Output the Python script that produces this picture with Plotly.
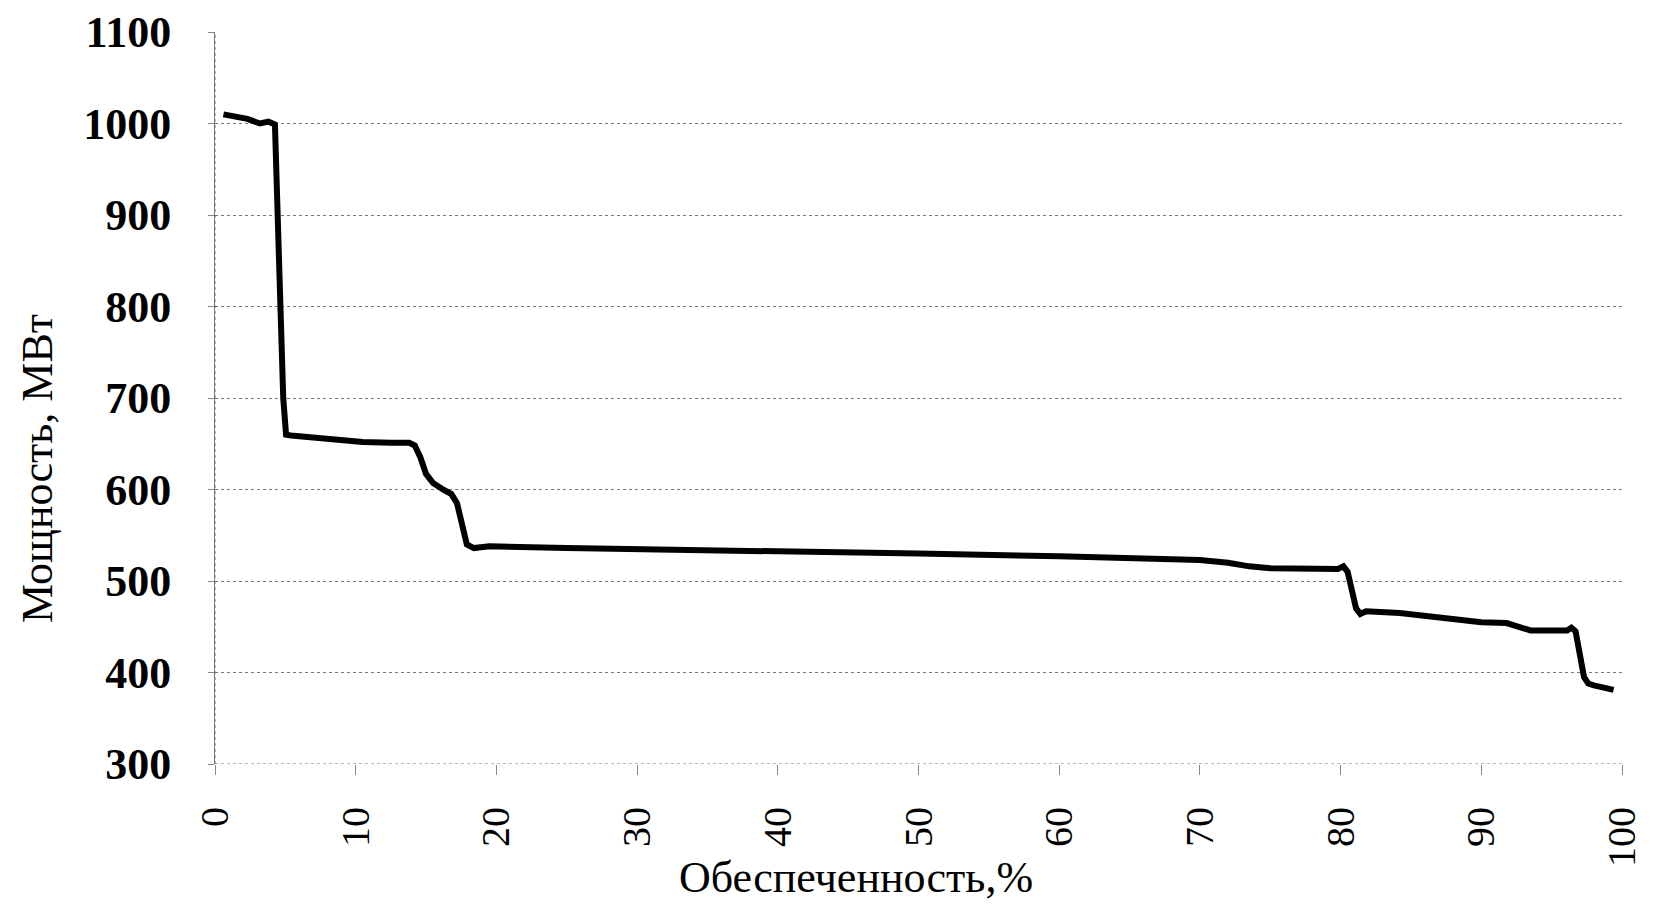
import plotly.graph_objs as go

# обеспеченность, % и мощность, МВт
obespechennost = [0.6, 1.5, 2.3, 3.2, 3.8, 4.26, 4.5, 4.65, 4.85, 5.05, 5.4, 7.0, 8.7,
                  10.5, 12.5, 13.8, 14.2, 14.6, 15.0, 15.5, 16.2, 16.8, 17.2, 17.6,
                  17.9, 18.4, 19.5, 25, 30, 40, 50, 60, 70, 72, 73.5, 75, 78, 79.8,
                  80.2, 80.5, 80.8, 81.1, 81.4, 81.8, 84.2, 86.6, 88.9, 90, 91.8,
                  92.5, 93.5, 96.1, 96.4, 96.7, 97.0, 97.3, 97.6, 98.0, 99.4]
moshchnost = [1010, 1007, 1005, 1000, 1002, 999, 900, 800, 700, 660, 659, 657, 654,
              652, 651, 651, 648, 635, 617, 607, 600, 595, 585, 562,
              540, 536, 538, 536, 535, 532, 530, 527, 523, 520, 516, 514, 513, 513,
              516, 510, 490, 470, 464, 467, 465, 461, 458, 455, 454,
              451, 446, 446, 449, 445, 420, 395, 388, 386, 381]

x_ticks = list(range(0, 101, 10))
y_ticks = list(range(300, 1101, 100))

fig = go.Figure()
fig.add_trace(go.Scatter(
    x=obespechennost,
    y=moshchnost,
    mode='lines',
    line=dict(color='black', width=6),
    showlegend=False
))

fig.update_layout(
    width=1638,
    height=895,
    margin=dict(l=207, r=24, t=24, b=139),
    plot_bgcolor='white',
    paper_bgcolor='white',
    font=dict(family='Liberation Serif', color='black'),
    xaxis=dict(
        range=[0, 100],
        tickvals=x_ticks,
        tickangle=-90,
        tickfont=dict(size=40),
        ticks='outside',
        ticklen=10,
        tickcolor='#888',
        ticklabelstandoff=16,
        showgrid=False,
        showline=False,
        zeroline=False,
        automargin=False,
    ),
    yaxis=dict(
        range=[300, 1100],
        tickvals=y_ticks,
        tickfont=dict(size=44, weight='bold'),
        ticks='outside',
        ticklen=6,
        tickcolor='#888',
        ticklabelstandoff=28,
        showgrid=True,
        gridcolor='#777',
        griddash='dot',
        gridwidth=1,
        showline=True,
        linecolor='#777',
        zeroline=False,
        automargin=False,
    ),
    annotations=[
        dict(text='Обеспеченность,%', xref='paper', yref='paper', x=0.4556, y=-0.1544,
             xanchor='center', yanchor='middle', showarrow=False, font=dict(size=44)),
        dict(text='Мощность, МВт', xref='paper', yref='paper', x=-0.1265, y=0.403,
             xanchor='center', yanchor='middle', textangle=-90, showarrow=False,
             font=dict(size=44)),
    ],
)

fig.add_shape(type='line', xref='paper', yref='y', x0=0, x1=1, y0=300, y1=300,
              line=dict(color='#777', width=1, dash='dot'))
fig.add_shape(type='line', xref='paper', yref='paper', x0=0, x1=0, y0=0, y1=1,
              line=dict(color='#777', width=1, dash='dot'))

fig.write_html("out.html")
